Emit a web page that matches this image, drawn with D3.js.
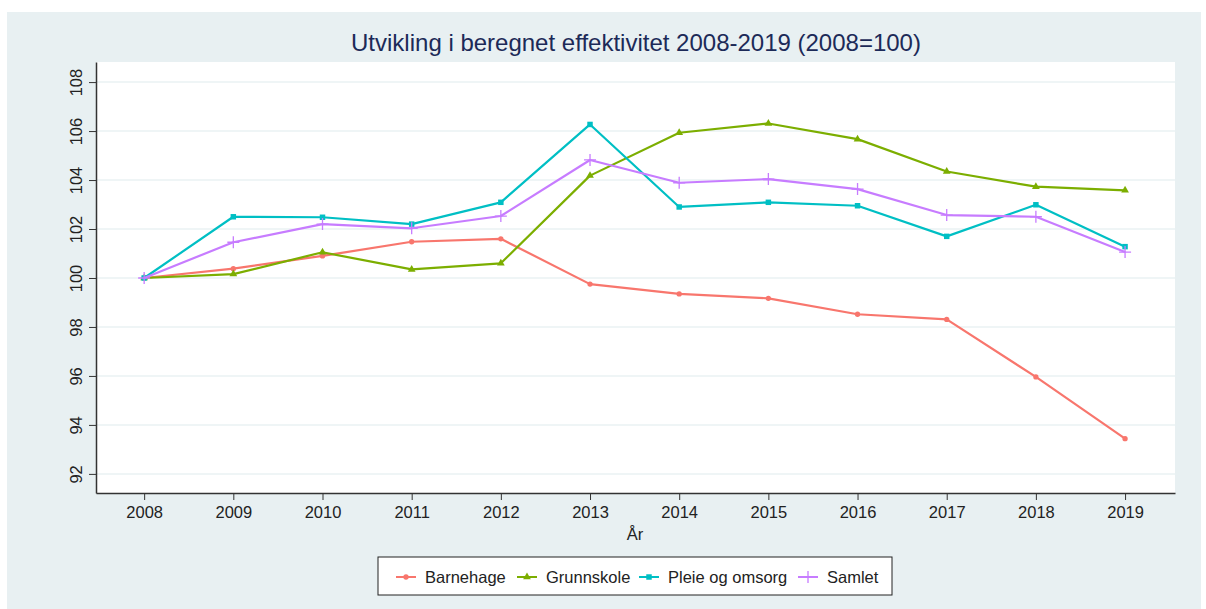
<!DOCTYPE html>
<html>
<head>
<meta charset="utf-8">
<script src="https://cdn.jsdelivr.net/npm/d3@7"></script>
<style>
  body { margin: 0; background: #fff; }
  svg { display: block; font-family: "Liberation Sans", Arial, sans-serif; }
</style>
</head>
<body>
<svg id="chart" width="1206" height="609"></svg>
<script>
const years = [2008, 2009, 2010, 2011, 2012, 2013, 2014, 2015, 2016, 2017, 2018, 2019];
const yTicks = [92, 94, 96, 98, 100, 102, 104, 106, 108];

const barnehage = [100, 100.38, 100.9, 101.48, 101.6, 99.75, 99.35, 99.17, 98.52, 98.31, 95.96, 93.44];
const grunnskole = [100, 100.16, 101.05, 100.35, 100.6, 104.18, 105.93, 106.31, 105.67, 104.35, 103.73, 103.58];
const pleie = [100, 102.5, 102.48, 102.2, 103.09, 106.27, 102.9, 103.09, 102.95, 101.7, 102.99, 101.28];
const samlet = [100, 101.46, 102.2, 102.03, 102.53, 104.82, 103.89, 104.04, 103.63, 102.57, 102.5, 101.06];

const seriesNames = ["Barnehage", "Grunnskole", "Pleie og omsorg", "Samlet"];
const seriesValues = [barnehage, grunnskole, pleie, samlet];
const colors = ["#f8766d", "#7cae00", "#00bfc4", "#c77cff"];
const symbols = ["circle", "triangle", "square", "plus"];

const font = "'Liberation Sans', Arial, sans-serif";
const svg = d3.select("#chart");
const margin = { top: 62, bottom: 116, left: 96, right: 31 };
const width = 1206, height = 609;
const innerWidth = width - margin.left - margin.right;
const innerHeight = height - margin.top - margin.bottom;

// background panel
svg.append("rect")
  .attr("x", 7).attr("y", 12)
  .attr("width", width - 12).attr("height", height - 12)
  .attr("fill", "#e8f0f2");

svg.append("text")
  .attr("x", 636).attr("y", 51)
  .attr("text-anchor", "middle")
  .attr("font-size", 24)
  .attr("fill", "#1c2a58")
  .text("Utvikling i beregnet effektivitet 2008-2019 (2008=100)");

const g = svg.append("g")
  .attr("transform", `translate(${margin.left}, ${margin.top})`);

g.append("rect")
  .attr("width", innerWidth).attr("height", innerHeight)
  .attr("fill", "#fff");

const xScale = d3.scaleLinear()
  .domain([2007.46, 2019.56])
  .range([0, innerWidth]);

const yScale = d3.scaleLinear()
  .domain([91.22, 108.82])
  .range([innerHeight, 0]);

// gridlines
g.append("g")
  .selectAll("line")
  .data(yTicks)
  .enter()
  .append("line")
  .attr("x1", 0).attr("x2", innerWidth)
  .attr("y1", d => yScale(d)).attr("y2", d => yScale(d))
  .attr("stroke", "#eaf2f3")
  .attr("stroke-width", 1.5);

// y axis
const yAxis = d3.axisLeft(yScale)
  .tickValues(yTicks)
  .tickSize(7)
  .tickPadding(5)
  .tickSizeOuter(0);

const yAxisG = g.append("g").call(yAxis)
  .attr("font-family", font)
  .attr("font-size", 16.5);
yAxisG.select(".domain").attr("stroke", "#333").attr("stroke-width", 1.5);
yAxisG.selectAll(".tick line").attr("stroke", "#333");
yAxisG.selectAll(".tick text")
  .attr("fill", "#222")
  .attr("text-anchor", "middle")
  .attr("x", 0)
  .attr("y", 0)
  .attr("dy", 0)
  .attr("transform", "translate(-14,0) rotate(-90)");

// x axis
const xAxis = d3.axisBottom(xScale)
  .tickValues(years)
  .tickFormat(d3.format("d"))
  .tickSize(7)
  .tickPadding(6)
  .tickSizeOuter(0);

const xAxisG = g.append("g")
  .attr("transform", `translate(0, ${innerHeight})`)
  .call(xAxis)
  .attr("font-family", font)
  .attr("font-size", 16.5);
xAxisG.select(".domain").attr("stroke", "#333").attr("stroke-width", 1.5);
xAxisG.selectAll(".tick line").attr("stroke", "#333");
xAxisG.selectAll(".tick text").attr("fill", "#222");

svg.append("text")
  .attr("x", 635).attr("y", 540)
  .attr("text-anchor", "middle")
  .attr("font-size", 16.5)
  .attr("fill", "#222")
  .text("År");

// lines
const line = d3.line()
  .x((d, i) => xScale(years[i]))
  .y(d => yScale(d));

const symbolPath = (type, size) => {
  if (type === "plus") {
    const s = size;
    return `M${-s},0H${s}M0,${-s}V${s}`;
  }
  const t = type === "circle" ? d3.symbolCircle : type === "triangle" ? d3.symbolTriangle : d3.symbolSquare;
  const area = type === "circle" ? 22 : type === "triangle" ? 26 : 30;
  return d3.symbol().type(t).size(area)();
};

seriesValues.forEach((vals, k) => {
  const sg = g.append("g");
  sg.append("path")
    .datum(vals)
    .attr("d", line)
    .attr("fill", "none")
    .attr("stroke", colors[k])
    .attr("stroke-width", 2.2)
    .attr("stroke-linejoin", "round");
  sg.selectAll("path.m")
    .data(vals)
    .enter()
    .append("path")
    .attr("class", "m")
    .attr("transform", (d, i) => `translate(${xScale(years[i])}, ${yScale(d)})`)
    .attr("d", symbolPath(symbols[k], 6))
    .attr("fill", colors[k])
    .attr("stroke", colors[k])
    .attr("stroke-width", symbols[k] === "plus" ? 1.3 : 0);
});

// legend
const legend = svg.append("g");
legend.append("rect")
  .attr("x", 378).attr("y", 557)
  .attr("width", 514).attr("height", 38)
  .attr("fill", "#fff")
  .attr("stroke", "#222")
  .attr("stroke-width", 1);

const legendX = [396, 517, 639, 798];
seriesNames.forEach((name, k) => {
  const lg = legend.append("g").attr("transform", `translate(${legendX[k]}, 577)`);
  lg.append("line")
    .attr("x1", 0).attr("x2", 20)
    .attr("stroke", colors[k]).attr("stroke-width", 2);
  lg.append("path")
    .attr("transform", "translate(10,0)")
    .attr("d", symbolPath(symbols[k], 6))
    .attr("fill", colors[k])
    .attr("stroke", colors[k])
    .attr("stroke-width", symbols[k] === "plus" ? 1.3 : 0);
  lg.append("text")
    .attr("x", 29).attr("dy", "0.35em")
    .attr("font-size", 16.5)
    .attr("fill", "#222")
    .text(name);
});
</script>
</body>
</html>
